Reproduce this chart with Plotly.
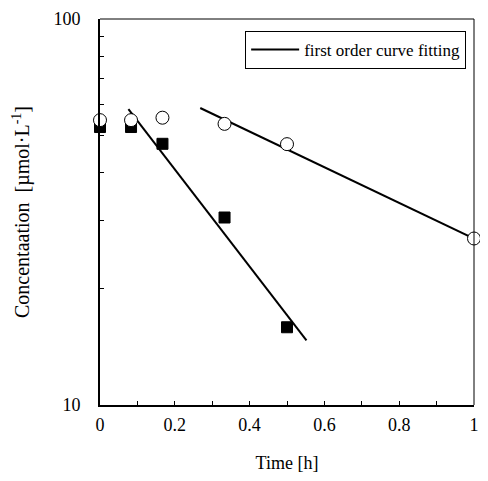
import plotly.graph_objects as go

time_h = [0, 0.083, 0.167, 0.333, 0.5, 1.0]
open_conc = [54.7, 54.7, 55.5, 53.5, 47.4, 27.0]
sq_time = [0, 0.083, 0.167, 0.333, 0.5]
sq_conc = [52.5, 52.5, 47.5, 30.6, 15.9]
fit1_t = [0.076, 0.552]
fit1_c = [58.4, 14.7]
fit2_t = [0.268, 1.0]
fit2_c = [58.8, 27.0]
x_ticks = [0, 0.2, 0.4, 0.6, 0.8, 1]
x_labels = ["0", "0.2", "0.4", "0.6", "0.8", "1"]
y_ticks = [10, 100]
y_labels = ["10", "100"]
y_minor = [20, 30, 40, 50, 60, 70, 80, 90]

font = "Liberation Serif"
tf = dict(family=font, size=18, color="black")

fig = go.Figure()
fig.add_trace(go.Scatter(x=fit1_t, y=fit1_c, mode="lines",
                         line=dict(color="black", width=2),
                         name="first order curve fitting", showlegend=True))
fig.add_trace(go.Scatter(x=fit2_t, y=fit2_c, mode="lines",
                         line=dict(color="black", width=2), showlegend=False))
fig.add_trace(go.Scatter(x=sq_time, y=sq_conc, mode="markers",
                         marker=dict(symbol="square", size=11, color="black",
                                     line=dict(color="black", width=1)),
                         showlegend=False, cliponaxis=False))
fig.add_trace(go.Scatter(x=time_h, y=open_conc, mode="markers",
                         marker=dict(symbol="circle", size=13, color="white",
                                     line=dict(color="black", width=1)),
                         showlegend=False, cliponaxis=False))

fig.update_layout(
    width=472, height=465,
    margin=dict(l=92, r=1, t=8, b=68),
    paper_bgcolor="white", plot_bgcolor="white",
    font=tf,
    showlegend=True,
    legend=dict(x=0.979, y=0.969, xanchor="right", yanchor="top",
                bordercolor="black", borderwidth=1, bgcolor="white",
                itemwidth=48,
                font=dict(family=font, size=17, color="black")),
    xaxis=dict(range=[0, 1], tickvals=x_ticks, ticktext=x_labels, tickfont=tf,
               ticks="inside", ticklen=4, tickwidth=1, tickcolor="black",
               minor=dict(dtick=0.1, tick0=0, ticks="inside", ticklen=4, tickcolor="black"),
               showline=True, linecolor="black", linewidth=2,
               showgrid=False, zeroline=False,
               ticklabelstandoff=2, ticklabeloverflow="allow",
               title=dict(text="Time [h]", font=dict(size=18, family=font, color="black"), standoff=24)),
    yaxis=dict(type="log", range=[1, 2], tickvals=y_ticks, ticktext=y_labels, tickfont=tf,
               ticks="inside", ticklen=4, tickwidth=1, tickcolor="black",
               minor=dict(tickvals=y_minor, ticks="inside", ticklen=4, tickcolor="black"),
               showline=True, linecolor="black", linewidth=2,
               showgrid=False, zeroline=False,
               ticklabelstandoff=14, ticklabeloverflow="allow",
               title=dict(text="Concentaation&nbsp;&nbsp;[µmol·L<sup>-1</sup>]",
                          font=dict(size=20, family=font, color="black"), standoff=18)),
    shapes=[
        dict(type="line", xref="paper", yref="paper", x0=0, x1=1, y0=1, y1=1,
             line=dict(color="black", width=1)),
        dict(type="line", xref="paper", yref="paper", x0=1, x1=1, y0=0, y1=1,
             line=dict(color="black", width=1)),
    ],
)

fig.write_html("out.html")
